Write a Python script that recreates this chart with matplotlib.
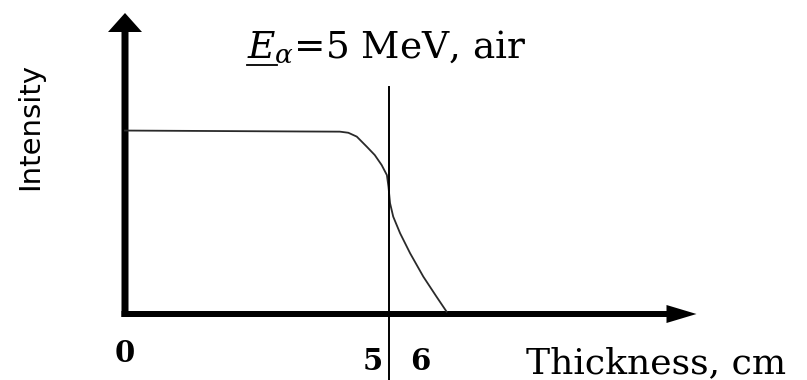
import matplotlib
matplotlib.use("Agg")
import matplotlib.pyplot as plt

# range curve for 5 MeV alphas in air
thickness = [0.0, 3.31, 4.07, 4.23, 4.39, 4.58, 4.73, 4.86, 4.96, 4.99,
             5.02, 5.08, 5.21, 5.40, 5.65, 5.90, 6.09]
intensity = [0.997, 0.992, 0.991, 0.985, 0.964, 0.909, 0.864, 0.810, 0.755,
             0.692, 0.602, 0.529, 0.439, 0.330, 0.203, 0.094, 0.013]
mean_range = 5          # cm, vertical marker
tick_labels = ["0", "5", "6"]
tick_pos = [0.0, 4.70, 5.59]

# pixel scale of the drawing
px_x = 1 / 52.8   # cm per pixel
px_y = 1 / 184.0  # intensity per pixel

plt.rcParams['mathtext.fontset'] = 'dejavuserif'

fig = plt.figure(figsize=(8.07, 3.80), dpi=100)
ax = fig.add_axes([0, 0, 1, 1])
ax.set_xlim(-125 * px_x, 682 * px_x)
ax.set_ylim(-66 * px_y, 314 * px_y)
ax.axis('off')

# axes drawn as arrows
ax.arrow(-3.5 * px_x, 0, 575 * px_x, 0, width=6 * px_y, head_width=18 * px_y,
         head_length=30 * px_x, length_includes_head=True, fc='black', ec='none')
ax.arrow(0, -3 * px_y, 0, 304 * px_y, width=7 * px_x, head_width=34 * px_x,
         head_length=19 * px_y, length_includes_head=True, fc='black', ec='none')

ax.plot(thickness, intensity, color='#2a2a2a', lw=1.3, solid_joinstyle='round')
ax.plot([mean_range, mean_range], [-66 * px_y, 227 * px_y], color='black', lw=1.4)

title_kw = dict(family='DejaVu Serif', fontsize=27, va='baseline')
title = ax.text(mean_range - 2 * px_x, 256 * px_y, r'$E_{\alpha}$=5 MeV, air',
                ha='center', **title_kw)
# underline under the E
fig.canvas.draw()
r = fig.canvas.get_renderer()
tb = title.get_window_extent(r)
probe = ax.text(0, 0, r'$E$', ha='left', **title_kw)
ew = probe.get_window_extent(r).width
probe.remove()
inv = ax.transData.inverted()
x0, yb = inv.transform((tb.x0, tb.y0))
x1, _ = inv.transform((tb.x0 + ew, tb.y0))
ax.plot([x0, x1], [yb + 1 * px_y, yb + 1 * px_y], color='black', lw=1.3)

ax.text(-95 * px_x, 188 * px_y, 'Intensity', family='DejaVu Sans', fontsize=21,
        rotation=90, ha='center', va='center')
ax.text(656 * px_x - 125 * px_x, -59 * px_y, 'Thickness, cm', family='DejaVu Serif',
        fontsize=26, ha='center', va='baseline')
for lab, xp, yp in zip(tick_labels, tick_pos, [-40, -48, -48]):
    ax.text(xp, yp * px_y, lab, family='DejaVu Serif', weight='bold',
            fontsize=21, ha='center', va='center')

fig.savefig('out.png', dpi=100)
